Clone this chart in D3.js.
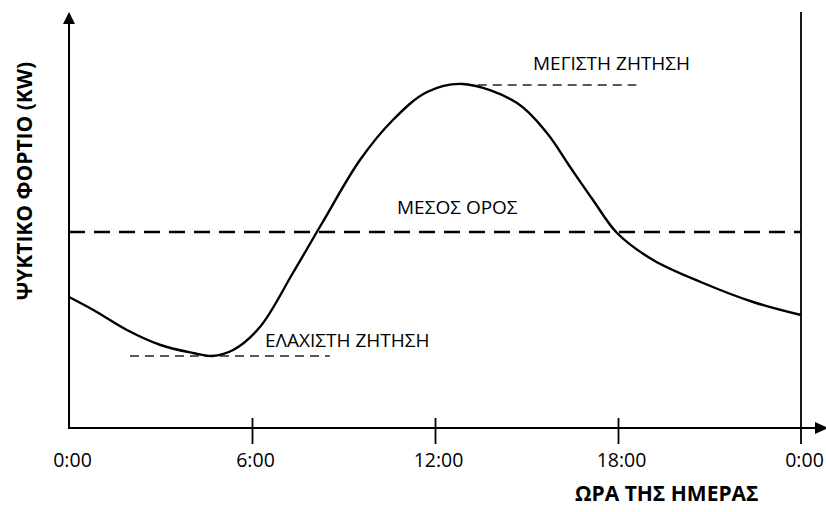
<!DOCTYPE html>
<html><head><meta charset="utf-8">
<script src="https://cdn.jsdelivr.net/npm/d3@7/dist/d3.min.js"></script>
<style>
html,body{margin:0;padding:0;background:#fff;}
svg{display:block;}
text{font-family:"Open Sans",sans-serif;fill:#000;}
</style></head><body>
<svg id="c" width="826" height="512"></svg>
<script>
// Data (hours of day vs cooling load, arbitrary kW units)
const hours = [0, 0.8, 1.9, 3.0, 4.07, 4.69, 5.38, 6.26, 7.34, 8.3, 9.54, 10.62, 11.74, 12.92, 14.69, 15.67, 16.43, 17.18, 17.97, 19.15, 20.79, 22.43, 24];
const load  = [32.75, 29.5, 24.5, 20.75, 18.75, 18, 19.5, 25.25, 38.75, 51.25, 67, 77, 84, 86, 81.25, 73.75, 65.25, 57, 48.75, 42, 36.25, 31.5, 28.25];
const tickHours = [0, 6, 12, 18, 24];
const tickLabels = ["0:00", "6:00", "12:00", "18:00", "0:00"];
const meanLoad = 49;
const maxLoad = 85.75;
const minLoad = 18;
const maxSpan = [13.4, 18.6];
const minSpan = [2.0, 8.55];
const labels = { max: "ΜΕΓΙΣΤΗ ΖΗΤΗΣΗ", mean: "ΜΕΣΟΣ ΟΡΟΣ", min: "ΕΛΑΧΙΣΤΗ ΖΗΤΗΣΗ" };
const xTitle = "ΩΡΑ ΤΗΣ ΗΜΕΡΑΣ";
const yTitle = "ΨΥΚΤΙΚΟ ΦΟΡΤΙΟ (KW)";

const svg = d3.select("#c");
const x = d3.scaleLinear().domain([0, 24]).range([69, 801]);
const y = d3.scaleLinear().domain([0, 104]).range([428, 12]);

// x axis
const xAxis = d3.axisBottom(x).tickValues(tickHours).tickFormat((d,i)=>tickLabels[i]).tickSize(16).tickSizeOuter(0);
const gx = svg.append("g").attr("transform",`translate(0,${y(0)})`).call(xAxis);
gx.select(".domain").remove();
gx.selectAll(".tick line").attr("y1",-10).attr("stroke","#000").attr("stroke-width",1.8)
  .attr("opacity",(d)=> (d===0||d===24)?0:1);
gx.selectAll(".tick text").attr("y",39).attr("dy",0).attr("dx",3)
  .style("font-family","'Open Sans',sans-serif").style("font-size","19.5px").attr("fill","#000");

// x axis line with arrow
svg.append("line").attr("x1",x(0)).attr("x2",820).attr("y1",y(0)).attr("y2",y(0))
  .attr("stroke","#000").attr("stroke-width",2);
svg.append("path").attr("d",`M828,${y(0)} L815,${y(0)-6} L815,${y(0)+6} Z`).attr("fill","#000");

// y axis line with arrow
svg.append("line").attr("x1",x(0)).attr("x2",x(0)).attr("y1",y(0)+1).attr("y2",20)
  .attr("stroke","#000").attr("stroke-width",2);
svg.append("path").attr("d",`M${x(0)},12 L${x(0)-6},24 L${x(0)+6},24 Z`).attr("fill","#000");

// right vertical line at 24h
svg.append("line").attr("x1",x(24)).attr("x2",x(24)).attr("y1",12).attr("y2",y(0)+16)
  .attr("stroke","#000").attr("stroke-width",1.8);

// mean line
svg.append("line").attr("x1",x(0)).attr("x2",x(24)).attr("y1",y(meanLoad)).attr("y2",y(meanLoad))
  .attr("stroke","#000").attr("stroke-width",2.4).attr("stroke-dasharray","16,9");
// max line
svg.append("line").attr("x1",x(maxSpan[0])).attr("x2",x(maxSpan[1])).attr("y1",y(maxLoad)).attr("y2",y(maxLoad))
  .attr("stroke","#222").attr("stroke-width",1.5).attr("stroke-dasharray","9,6");
// min line
svg.append("line").attr("x1",x(minSpan[0])).attr("x2",x(minSpan[1])).attr("y1",y(minLoad)).attr("y2",y(minLoad))
  .attr("stroke","#222").attr("stroke-width",1.5).attr("stroke-dasharray","9,6");

// curve
const line = d3.line().x((d,i)=>x(hours[i])).y((d,i)=>y(load[i])).curve(d3.curveCatmullRom.alpha(0.5));
svg.append("path").datum(load).attr("d",line).attr("fill","none").attr("stroke","#000").attr("stroke-width",2.4);

// labels
svg.append("text").attr("x",533).attr("y",70).style("font-size","19px").text(labels.max);
svg.append("text").attr("x",397).attr("y",214).style("font-size","19px").text(labels.mean);
svg.append("text").attr("x",265).attr("y",347).style("font-size","19px").text(labels.min);

svg.append("text").attr("x",575).attr("y",501).style("font-size","21px").style("font-weight","bold").text(xTitle);
svg.append("text").attr("transform","translate(32,181) rotate(-90)").attr("text-anchor","middle")
  .style("font-size","21px").style("font-weight","bold").text(yTitle);
</script>
</body></html>
